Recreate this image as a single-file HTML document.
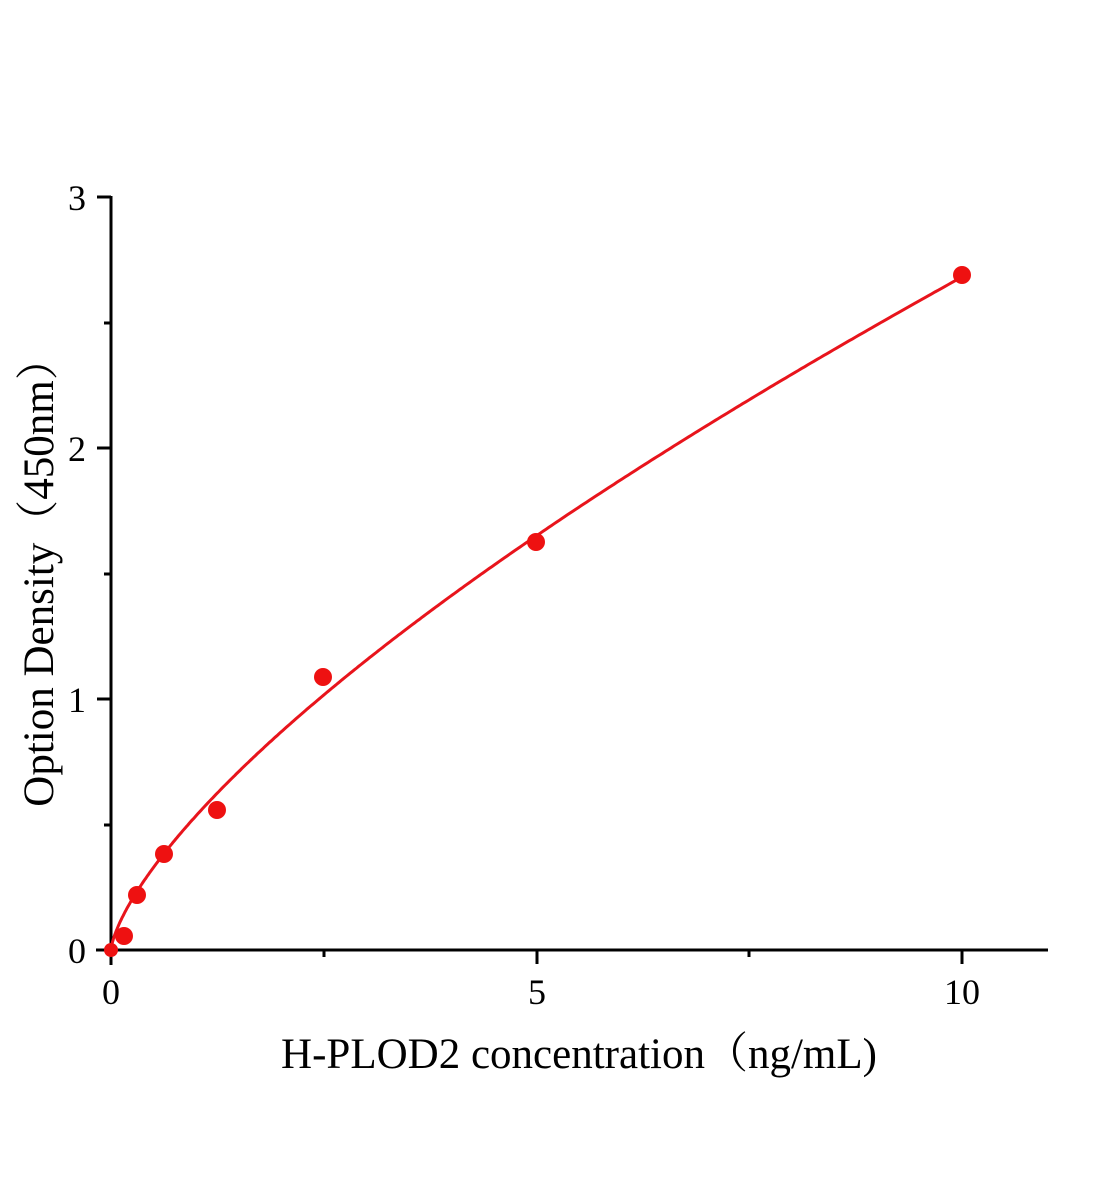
<!DOCTYPE html>
<html><head><meta charset="utf-8"><style>
html,body{margin:0;padding:0;background:#fff;}
svg{display:block;}
text{font-family:"Liberation Serif","Noto Serif CJK SC",serif;fill:#000;}
</style></head><body>
<svg id="s" width="1104" height="1200" xmlns="http://www.w3.org/2000/svg">
<g stroke="#000" stroke-width="3" fill="none">
<line x1="111" y1="196" x2="111" y2="965"/>
<line x1="96" y1="950" x2="1048" y2="950"/>
<line x1="97" y1="197" x2="111" y2="197"/>
<line x1="97" y1="448" x2="111" y2="448"/>
<line x1="97" y1="699" x2="111" y2="699"/>
<line x1="104" y1="323" x2="111" y2="323"/>
<line x1="104" y1="574" x2="111" y2="574"/>
<line x1="104" y1="825" x2="111" y2="825"/>
<line x1="537" y1="950" x2="537" y2="964"/>
<line x1="962" y1="950" x2="962" y2="964"/>
<line x1="324" y1="950" x2="324" y2="957"/>
<line x1="749" y1="950" x2="749" y2="957"/>
</g>
<g font-size="36" text-anchor="end">
<text x="86" y="210">3</text>
<text x="86" y="461">2</text>
<text x="86" y="712">1</text>
<text x="86" y="963">0</text>
</g>
<g font-size="36" text-anchor="middle">
<text x="111" y="1004">0</text>
<text x="537" y="1004">5</text>
<text x="962" y="1004">10</text>
</g>
<text x="579" y="1068" font-size="43" text-anchor="middle">H-PLOD2 concentration（ng/mL)</text>
<text transform="translate(53,572) rotate(-90)" font-size="43" text-anchor="middle">Option Density（450nm）</text>
<path id="c" stroke="#e8141c" stroke-width="3" fill="none"/>
<g fill="#ee1111">
<circle cx="111" cy="950" r="7"/>
<circle cx="124" cy="936" r="9"/>
<circle cx="137" cy="895" r="9"/>
<circle cx="164" cy="854" r="9"/>
<circle cx="217" cy="810" r="9"/>
<circle cx="323" cy="677" r="9"/>
<circle cx="536" cy="542" r="9"/>
<circle cx="962" cy="275" r="9"/>
</g>
</svg>
<script>
var d="";for(var i=0;i<=400;i++){var x=10*Math.pow(i/400,1.6);var y=0.535*Math.pow(x,0.70);var px=111+x*85.1,py=950-y*251;d+=(i?"L":"M")+px.toFixed(1)+" "+py.toFixed(1);}
document.getElementById("c").setAttribute("d",d);
</script>
</body></html>
